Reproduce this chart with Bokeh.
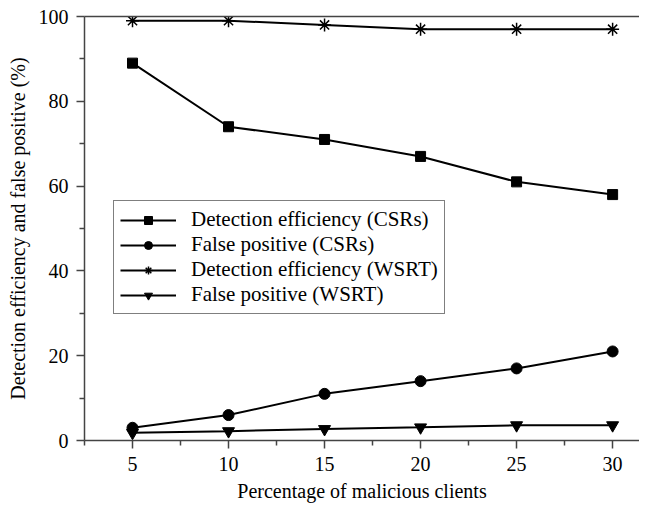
from bokeh.plotting import figure
from bokeh.models import LinearAxis, FixedTicker, Range1d, Legend, LegendItem
from bokeh.embed import file_html
from bokeh.resources import INLINE

clients = [5, 10, 15, 20, 25, 30]
det_csr = [89, 74, 71, 67, 61, 58]
fp_csr = [3, 6, 11, 14, 17, 21]
det_wsrt = [99, 99, 98, 97, 97, 97]
fp_wsrt = [1.8, 2.2, 2.7, 3.1, 3.6, 3.6]
x_ticks = [5, 10, 15, 20, 25, 30]
y_ticks = [0, 20, 40, 60, 80, 100]

FONT = "Liberation Serif"
AX = "#444444"

p = figure(width=639, height=504, output_backend="svg", toolbar_location=None,
           x_range=Range1d(2.5, 31.4), y_range=Range1d(0, 100),
           min_border_left=84, min_border_top=16, min_border_bottom=61, min_border_right=0)
p.outline_line_color = None
p.xgrid.visible = False
p.ygrid.visible = False

p.xaxis.ticker = FixedTicker(ticks=x_ticks, minor_ticks=[2.5, 7.5, 12.5, 17.5, 22.5, 27.5])
p.yaxis.ticker = FixedTicker(ticks=y_ticks, minor_ticks=[10, 30, 50, 70, 90])
for ax in (p.xaxis[0], p.yaxis[0]):
    ax.axis_line_color = AX
    ax.axis_line_width = 1.5
    ax.major_tick_line_color = AX
    ax.major_tick_line_width = 1.5
    ax.minor_tick_line_color = AX
    ax.minor_tick_line_width = 1.5
    ax.major_tick_in = 0
    ax.major_tick_out = 8
    ax.minor_tick_in = 0
    ax.minor_tick_out = 5
    ax.major_label_text_font = FONT
    ax.major_label_text_font_size = "20px"
    ax.major_label_text_color = "black"
    ax.axis_label_text_font = FONT
    ax.axis_label_text_font_size = "20px"
    ax.axis_label_text_font_style = "normal"
    ax.axis_label_text_color = "black"
p.xaxis.axis_label = "Percentage of malicious clients"
p.yaxis.axis_label = "Detection efficiency and false positive (%)"
p.xaxis.major_label_standoff = 8
p.yaxis.major_label_standoff = 8
p.xaxis.axis_label_standoff = 6
p.yaxis.axis_label_standoff = 7

top = LinearAxis(ticker=FixedTicker(ticks=[]), major_tick_line_color=None,
                 minor_tick_line_color=None, major_label_text_font_size="0px",
                 axis_line_color=AX, axis_line_width=1.5)
p.add_layout(top, "above")

lw = 2
r1l = p.line(clients, det_csr, line_color="black", line_width=lw)
r1m = p.scatter(clients, det_csr, marker="square", size=10, color="black")
r2l = p.line(clients, fp_csr, line_color="black", line_width=lw)
r2m = p.scatter(clients, fp_csr, marker="circle", size=11, color="black")
r3l = p.line(clients, det_wsrt, line_color="black", line_width=lw)
r3m = p.scatter(clients, det_wsrt, marker="asterisk", size=13, line_color="black", line_width=1.5)
r4l = p.line(clients, fp_wsrt, line_color="black", line_width=lw)
r4m = p.scatter(clients, fp_wsrt, marker="inverted_triangle", size=12, color="black")

legend = Legend(items=[
    LegendItem(label="Detection efficiency (CSRs)", renderers=[r1l, r1m]),
    LegendItem(label="False positive (CSRs)", renderers=[r2l, r2m]),
    LegendItem(label="Detection efficiency (WSRT)", renderers=[r3l, r3m]),
    LegendItem(label="False positive (WSRT)", renderers=[r4l, r4m]),
], location=(29, 126))
legend.label_text_font = FONT
legend.label_text_font_size = "21px"
legend.label_text_color = "black"
legend.border_line_color = "black"
legend.border_line_width = 1
legend.background_fill_color = "white"
legend.background_fill_alpha = 1
legend.glyph_width = 56
legend.glyph_height = 20
legend.label_height = 20
legend.spacing = 0
legend.padding = 6
legend.label_standoff = 15
legend.margin = 0
p.add_layout(legend, "center")

open("out.html", "w").write(file_html(p, INLINE))
